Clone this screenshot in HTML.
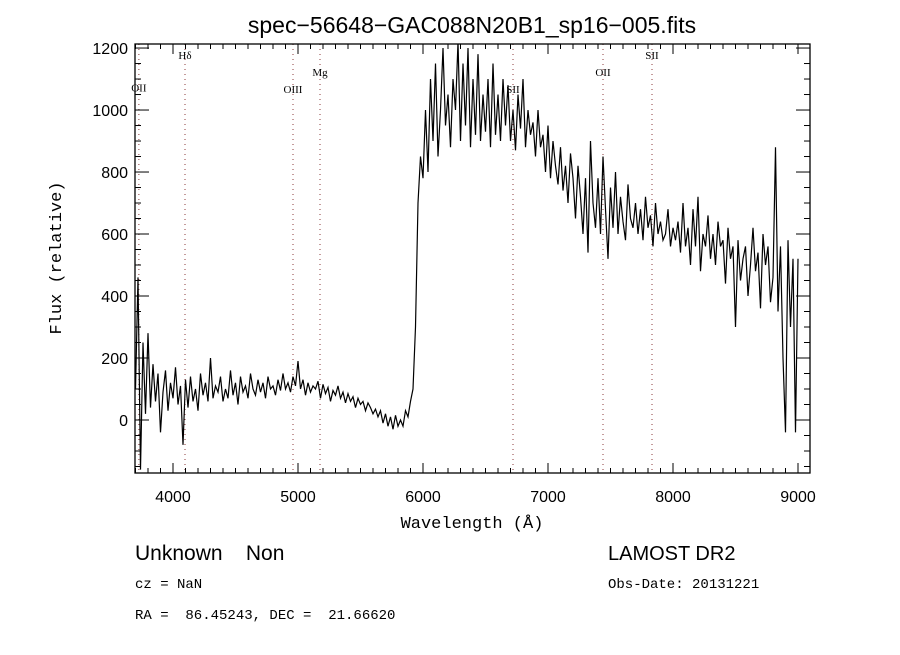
<!DOCTYPE html>
<html><head><meta charset="utf-8"><style>
body{margin:0;background:#fff;}
svg text{font-family:"Liberation Sans",sans-serif;}
</style></head><body>
<svg id="chart" width="900" height="650" xmlns="http://www.w3.org/2000/svg">
<rect width="900" height="650" fill="#fff"/>
<text x="472" y="33" font-size="23" text-anchor="middle">spec−56648−GAC088N20B1_sp16−005.fits</text>
<defs><clipPath id="clip"><rect x="135" y="44" width="675" height="429"/></clipPath></defs>
<g id="lines"></g>
<g id="spec" clip-path="url(#clip)"></g>
<g id="axes"></g>
<text x="472" y="528" font-size="17" text-anchor="middle" style="font-family:'Liberation Mono',monospace">Wavelength (Å)</text>
<text transform="translate(61,258) rotate(-90)" font-size="17" text-anchor="middle" style="font-family:'Liberation Mono',monospace">Flux (relative)</text>
<text x="135" y="560" font-size="21" xml:space="preserve">Unknown    Non</text>
<text x="135" y="588" font-size="14" style="font-family:'Liberation Mono',monospace">cz = NaN</text>
<text x="135" y="619" font-size="14" style="font-family:'Liberation Mono',monospace" xml:space="preserve">RA =  86.45243, DEC =  21.66620</text>
<text x="608" y="560" font-size="20">LAMOST DR2</text>
<text x="608" y="588" font-size="14" style="font-family:'Liberation Mono',monospace">Obs-Date: 20131221</text>
</svg>
<script>
const waveStart = 3700;
const waveStep = 20;
const flux = [100,460,-160,250,20,280,40,180,60,150,-40,
90,160,30,120,70,170,50,110,-80,130,40,140,60,100,30,150,80,120,60,200,70,110,90,140,60,
100,70,160,80,120,50,140,90,110,70,150,100,80,130,90,120,70,140,100,110,80,130,95,150,100,120,90,140,110,190,
100,130,80,120,90,110,100,125,70,115,85,105,60,95,80,110,70,90,55,85,60,75,40,70,50,60,30,55,40,20,35,10,30,-10,20,-20,10,-30,15,-20,
0,-20,30,10,60,100,300,700,850,780,
1000,800,1100,900,1150,850,1000,1200,950,1050,880,1100,1000,1220,900,1150,950,1200,880,1100,920,1180,900,1050,930,1100,880,1150,920,1050,
900,1100,950,1080,900,1000,870,1050,940,1100,880,1000,920,960,850,1000,880,920,800,950,780,900,820,760,880,740,820,700,860,780,
650,820,720,600,780,540,900,700,620,780,600,850,680,520,750,620,800,600,720,640,580,760,650,620,700,600,680,580,720,620,660,560,700,600,640,580,600,680,560,620,
580,640,540,700,560,620,500,680,560,720,480,600,560,660,520,600,500,640,560,580,440,620,520,560,300,580,450,520,560,400,500,620,480,540,360,600,500,560,380,460,
880,350,560,200,-40,580,300,520,-40,520];
const xTicks = [4000,5000,6000,7000,8000,9000];
const yTicks = [0,200,400,600,800,1000,1200];
const lineNames = ["OII","Hδ","OIII","Mg","SII","OII","SII"];
const lineWaves = [3727,4096,4960,5176,6720,7440,7832];
const lineLabelY = [1060,1165,1055,1110,1055,1110,1165];

const L=135,R=810,T=44,B=473;
const xMin=3696,xMax=9096,yMin=-171,yMax=1213;
const sx=w=>L+(w-xMin)/(xMax-xMin)*(R-L);
const sy=v=>B-(v-yMin)/(yMax-yMin)*(B-T);
const NS="http://www.w3.org/2000/svg";
function mk(tag,attrs,parent){const e=document.createElementNS(NS,tag);for(const k in attrs)e.setAttribute(k,attrs[k]);parent.appendChild(e);return e;}

const spec=document.getElementById('spec');
let d='';
flux.forEach((v,i)=>{d+=(i?'L':'M')+sx(waveStart+i*waveStep).toFixed(1)+','+sy(v).toFixed(1);});
const p=mk('path',{d:d,fill:'none',stroke:'#000','stroke-width':1.2},spec);



const lg=document.getElementById('lines');
lineWaves.forEach((w,i)=>{
  const x=sx(w);
  const ln=mk('line',{x1:x,x2:x,y1:T,y2:B,stroke:'#8b3a3a','stroke-width':1,'stroke-dasharray':'1,4'},lg);
  
  
  const t=mk('text',{x:x,y:sy(lineLabelY[i]),'font-size':11,'text-anchor':'middle',style:"font-family:'Liberation Serif',serif"},lg);
  t.textContent=lineNames[i];
  
  
});

const ax=document.getElementById('axes');
const fr=mk('rect',{x:L,y:T,width:R-L,height:B-T,fill:'none',stroke:'#000','stroke-width':1.3},ax);


for(let w=3700;w<=9096;w+=100){
  const x=sx(w),maj=w%1000===0,len=maj?10:5;
  mk('line',{x1:x,x2:x,y1:B,y2:B-len,stroke:'#000'},ax);
  mk('line',{x1:x,x2:x,y1:T,y2:T+len,stroke:'#000'},ax);
}
for(let v=-150;v<=1213;v+=50){
  const y=sy(v),maj=v%200===0,len=maj?14:6;
  mk('line',{x1:L,x2:L+len,y1:y,y2:y,stroke:'#000'},ax);
  mk('line',{x1:R,x2:R-len,y1:y,y2:y,stroke:'#000'},ax);
}
xTicks.forEach(w=>{
  const t=mk('text',{x:sx(w),y:B+29,'font-size':16,'text-anchor':'middle'},ax);
  t.textContent=w;
  
  
});
yTicks.forEach(v=>{
  const t=mk('text',{x:L-7,y:sy(v)+6,'font-size':16,'text-anchor':'end'},ax);
  t.textContent=v;
  
  
});
</script>
</body></html>
